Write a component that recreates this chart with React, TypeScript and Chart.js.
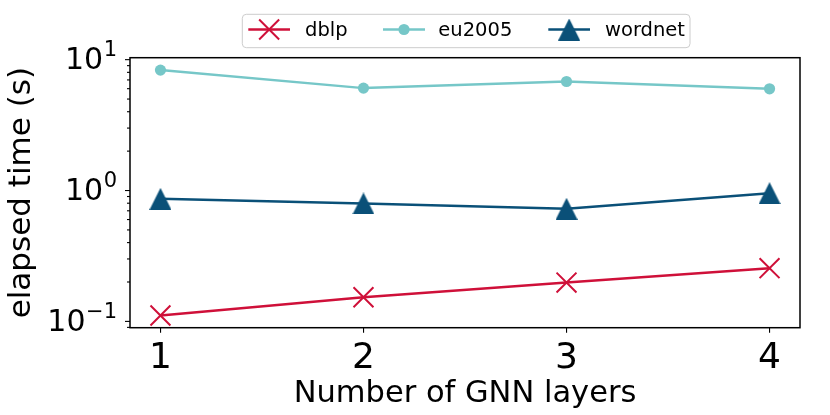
import React, { useEffect, useRef } from 'react';
import { Chart, registerables } from 'chart.js';

Chart.register(...registerables);

// ---- data ----
const layers = [1, 2, 3, 4];
const xTickLabels = ['1', '2', '3', '4'];
const seriesNames = ['dblp', 'eu2005', 'wordnet'];
const dblp = [0.111, 0.153, 0.198, 0.255];
const eu2005 = [8.32, 6.06, 6.81, 5.99];
const wordnet = [0.864, 0.796, 0.725, 0.955];
const yMajorTicks = [0.1, 1, 10];
const yTickBase = ['10', '10', '10'];
const yTickExponents = ['\u22121', '0', '1'];
const yMinorTicks = [0.09, 0.2, 0.3, 0.4, 0.5, 0.6, 0.7, 0.8, 0.9, 2, 3, 4, 5, 6, 7, 8, 9];
const xTitle = 'Number of GNN layers';
const yTitle = 'elapsed time (s)';

const RED = '#cf1039';
const TEAL = '#76c7c8';
const NAVY = '#0a5078';
const FONT = "'DejaVu Sans', sans-serif";

function makeTriangle(color: string, w: number, h: number) {
  const c = document.createElement('canvas');
  c.width = w;
  c.height = h;
  const ctx = c.getContext('2d')!;
  ctx.fillStyle = color;
  ctx.beginPath();
  ctx.moveTo(w / 2, 0);
  ctx.lineTo(w, h);
  ctx.lineTo(0, h);
  ctx.closePath();
  ctx.fill();
  return c;
}

export default function App() {
  const ref = useRef<HTMLCanvasElement | null>(null);

  useEffect(() => {
    const canvas = ref.current!;
    const tri = makeTriangle(NAVY, 22, 22);

    const decorPlugin = {
      id: 'decor',
      afterDraw(chart: any) {
        const ctx = chart.ctx as CanvasRenderingContext2D;
        const a = chart.chartArea;
        const ys = chart.scales.y;
        ctx.save();
        // y tick marks (major / minor)
        ctx.strokeStyle = '#000';
        ctx.lineWidth = 1.1;
        const drawTick = (v: number, len: number) => {
          const p = ys.getPixelForValue(v);
          ctx.beginPath();
          ctx.moveTo(a.left - len, p);
          ctx.lineTo(a.left, p);
          ctx.stroke();
        };
        yMinorTicks.forEach((v) => drawTick(v, 3));
        yMajorTicks.forEach((v) => drawTick(v, 5));

        // y tick labels: 10 with superscript exponent
        ctx.fillStyle = '#000';
        ctx.textAlign = 'right';
        ctx.textBaseline = 'alphabetic';
        yMajorTicks.forEach((v, i) => {
          const p = ys.getPixelForValue(v);
          const right = a.left - 13;
          ctx.font = `21px ${FONT}`;
          const ew = ctx.measureText(yTickExponents[i]).width;
          const baseY = p + 9.3;
          ctx.fillText(yTickExponents[i], right, baseY - 12.5);
          ctx.font = `30px ${FONT}`;
          ctx.fillText(yTickBase[i], right - ew - 0.5, baseY);
        });

        // frame
        ctx.lineWidth = 1.5;
        ctx.strokeRect(a.left, a.top, a.right - a.left, a.bottom - a.top);

        // legend
        const bx = 242.3, by = 14.3, bw = 447.7, bh = 33.4;
        ctx.beginPath();
        (ctx as any).roundRect(bx, by, bw, bh, 4);
        ctx.fillStyle = 'rgba(255,255,255,0.8)';
        ctx.fill();
        ctx.strokeStyle = '#cccccc';
        ctx.lineWidth = 1;
        ctx.stroke();

        const items = [
          { x0: 248.3, x1: 290, tx: 305, color: RED, kind: 'x' },
          { x0: 383, x1: 425, tx: 438.3, color: TEAL, kind: 'o' },
          { x0: 548.3, x1: 590, tx: 605, color: NAVY, kind: '^' },
        ];
        const ly = 29.5;
        items.forEach((it, i) => {
          ctx.strokeStyle = it.color;
          ctx.lineWidth = 2.5;
          ctx.beginPath();
          ctx.moveTo(it.x0, ly);
          ctx.lineTo(it.x1, ly);
          ctx.stroke();
          const cx = (it.x0 + it.x1) / 2;
          if (it.kind === 'x') {
            ctx.lineWidth = 2;
            ctx.beginPath();
            ctx.moveTo(cx - 10, ly - 10);
            ctx.lineTo(cx + 10, ly + 10);
            ctx.moveTo(cx + 10, ly - 10);
            ctx.lineTo(cx - 10, ly + 10);
            ctx.stroke();
          } else if (it.kind === 'o') {
            ctx.fillStyle = it.color;
            ctx.beginPath();
            ctx.arc(cx, ly, 5.6, 0, Math.PI * 2);
            ctx.fill();
          } else {
            ctx.drawImage(tri, cx - 11, ly - 11, 22, 22);
          }
          ctx.fillStyle = '#000';
          ctx.font = `19.5px ${FONT}`;
          ctx.textBaseline = 'middle';
          ctx.textAlign = 'left';
          ctx.fillText(seriesNames[i], it.tx, ly + 1.5);
        });
        ctx.restore();
      },
    };

    const chart = new Chart(canvas, {
      type: 'line',
      data: {
        datasets: [
          {
            label: seriesNames[0],
            data: layers.map((x, i) => ({ x, y: dblp[i] })),
            borderColor: RED,
            backgroundColor: RED,
            borderWidth: 2.5,
            pointStyle: 'crossRot',
            pointRadius: 14.1,
            pointBorderWidth: 2,
            pointBorderColor: RED,
            tension: 0,
          },
          {
            label: seriesNames[1],
            data: layers.map((x, i) => ({ x, y: eu2005[i] })),
            borderColor: TEAL,
            backgroundColor: TEAL,
            borderWidth: 2.5,
            pointStyle: 'circle',
            pointRadius: 5.6,
            pointBorderWidth: 0,
            pointBackgroundColor: TEAL,
            tension: 0,
          },
          {
            label: seriesNames[2],
            data: layers.map((x, i) => ({ x, y: wordnet[i] })),
            borderColor: NAVY,
            backgroundColor: NAVY,
            borderWidth: 2.5,
            pointStyle: tri as any,
            pointRadius: 11,
            tension: 0,
          },
        ],
      },
      options: {
        animation: false,
        responsive: false,
        events: [],
        layout: { padding: { top: 57.7, right: 30, left: 0, bottom: 0 } },
        plugins: { legend: { display: false }, tooltip: { enabled: false } },
        scales: {
          x: {
            type: 'linear',
            min: 0.85,
            max: 4.15,
            afterBuildTicks: (s: any) => {
              s.ticks = layers.map((v) => ({ value: v }));
            },
            afterFit: (s: any) => {
              s.height = 415 - 327.7;
            },
            ticks: {
              autoSkip: false,
              maxRotation: 0,
              padding: 4,
              color: '#000',
              font: { family: FONT, size: 36 },
              callback: (v: any) => {
                const i = layers.indexOf(Number(v));
                return i >= 0 ? xTickLabels[i] : '';
              },
            },
            grid: {
              display: true,
              drawOnChartArea: false,
              drawTicks: true,
              tickLength: 5,
              color: '#000',
              lineWidth: 1.1,
            },
            border: { display: false },
            title: {
              display: true,
              text: xTitle,
              color: '#000',
              font: { family: FONT, size: 30.5 },
              padding: { top: 0, bottom: 3 },
            },
          },
          y: {
            type: 'logarithmic',
            min: 0.0895,
            max: 10.35,
            afterBuildTicks: (s: any) => {
              s.ticks = [...yMinorTicks, ...yMajorTicks]
                .sort((p, q) => p - q)
                .map((v) => ({ value: v, major: yMajorTicks.includes(v) }));
            },
            afterFit: (s: any) => {
              s.width = 130;
            },
            ticks: {
              autoSkip: false,
              padding: 14,
              color: '#000',
              font: { family: FONT, size: 30 },
              callback: () => '',
            },
            grid: { display: false, drawTicks: false },
            border: { display: false },
            title: {
              display: true,
              text: yTitle,
              color: '#000',
              font: { family: FONT, size: 31 },
              padding: { top: 3.7, bottom: 0 },
            },
          },
        },
      },
      plugins: [decorPlugin],
    } as any);

    return () => chart.destroy();
  }, []);

  return (
    <div style={{ position: 'fixed', left: 0, top: 0, width: 830, height: 415, background: '#fff' }}>
      <canvas ref={ref} width={830} height={415} style={{ display: 'block' }} />
    </div>
  );
}
